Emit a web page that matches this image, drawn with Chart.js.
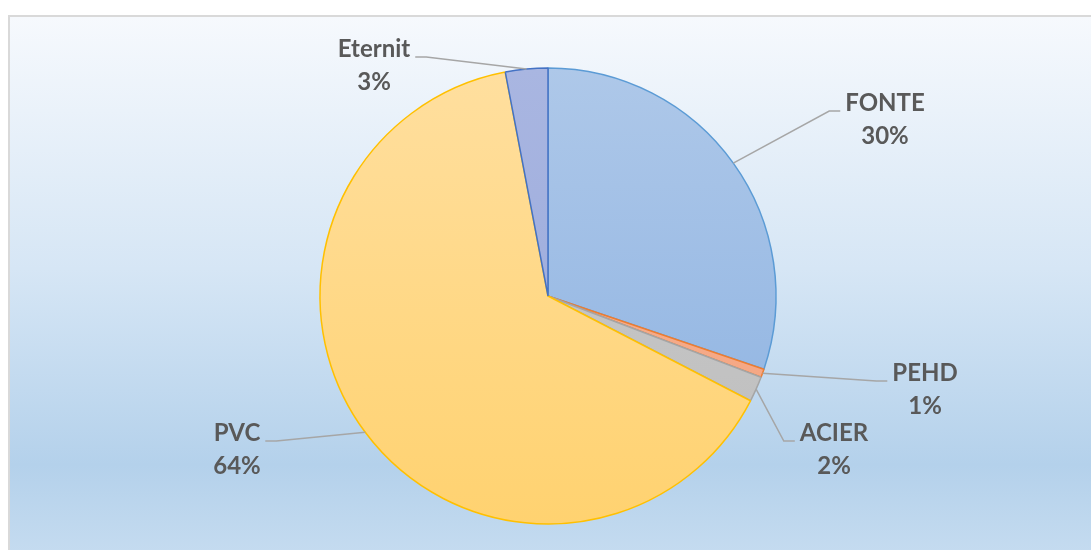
<!DOCTYPE html>
<html>
<head>
<meta charset="utf-8">
<script src="https://cdn.jsdelivr.net/npm/chart.js@4"></script>
<style>
    html, body { margin: 0; padding: 0; background: #ffffff; overflow: hidden; }
    #wrap { position: relative; width: 1091px; height: 550px; }
    #frame {
        position: absolute; left: 8px; top: 15px; width: 1100px; height: 560px;
        border-left: 2px solid #d9d9d9; border-top: 2px solid #d9d9d9;
        background: linear-gradient(to bottom, #f6f9fd 0%, #d6e6f5 45%, #b4d1eb 80%, #c9def1 100%);
    }
    #pieChart { position: absolute; left: 0; top: 0; }
</style>
</head>
<body>
<div id="wrap">
    <div id="frame"></div>
    <canvas id="pieChart" width="1091" height="550"></canvas>
</div>
<script>
// données
const categories = ['FONTE', 'PEHD', 'ACIER', 'PVC', 'Eternit'];
const shares = [30.2, 0.6, 1.8, 64.4, 3.0];

// couleurs (haut / bas du dégradé) et bordures
const fillTop = ['#aec8e9', '#f9bd9f', '#cccccc', '#ffdf9f', '#a9b6e1'];
const fillBottom = ['#8bb1e1', '#f39d78', '#bdbdbd', '#ffd270', '#97a7da'];
const borderColors = ['#5b9bd5', '#ed7d31', '#a5a5a5', '#ffc000', '#4472c4'];

// position des étiquettes par rapport au centre (px) et côté du trait
const labelOffsets = [[337, -193], [377, 77], [286, 137], [-311, 137], [-174, -247]];
const PIE_RADIUS = 228;

function sliceFill(context) {
    const chart = context.chart;
    const area = chart.chartArea;
    const i = context.dataIndex;
    if (!area) return fillTop[i];
    const cy = (area.top + area.bottom) / 2;
    const g = chart.ctx.createLinearGradient(0, cy - PIE_RADIUS, 0, cy + PIE_RADIUS);
    g.addColorStop(0, fillTop[i]);
    g.addColorStop(1, fillBottom[i]);
    return g;
}

// étiquettes avec lignes de repère
const leaderLabels = {
    id: 'leaderLabels',
    afterDatasetsDraw(chart) {
        const ctx = chart.ctx;
        const meta = chart.getDatasetMeta(0);
        const total = shares.reduce((a, b) => a + b, 0);
        ctx.save();
        meta.data.forEach((arc, i) => {
            const mid = (arc.startAngle + arc.endAngle) / 2;
            const rx = arc.x + Math.cos(mid) * arc.outerRadius;
            const ry = arc.y + Math.sin(mid) * arc.outerRadius;
            const tx = arc.x + labelOffsets[i][0];
            const ty = arc.y + labelOffsets[i][1];
            const pct = Math.round(shares[i] / total * 100) + '%';

            ctx.font = 'bold 24px Lato';
            const w1 = ctx.measureText(categories[i]).width;
            const right = rx > tx;
            const edgeX = right ? tx + w1 / 2 + 5 : tx - w1 / 2 - 5;
            const lineY = ty + 8;
            const elbowX = right ? edgeX + 11 : edgeX - 11;

            ctx.strokeStyle = '#a6a6a6';
            ctx.lineWidth = 1.5;
            ctx.beginPath();
            ctx.moveTo(rx, ry);
            ctx.lineTo(elbowX, lineY);
            ctx.lineTo(edgeX, lineY);
            ctx.stroke();

            ctx.fillStyle = '#595959';
            ctx.textAlign = 'center';
            ctx.textBaseline = 'middle';
            ctx.fillText(categories[i], tx, ty);
            ctx.fillText(pct, tx, ty + 33);
        });
        ctx.restore();
    }
};

new Chart(document.getElementById('pieChart'), {
    type: 'pie',
    data: {
        labels: categories,
        datasets: [{
            data: shares,
            backgroundColor: sliceFill,
            borderColor: borderColors,
            borderWidth: 1.5,
            radius: PIE_RADIUS
        }]
    },
    options: {
        responsive: false,
        animation: false,
        layout: { padding: { left: 5, right: 0, top: 42, bottom: 0 } },
        plugins: {
            legend: { display: false },
            tooltip: { enabled: false }
        }
    },
    plugins: [leaderLabels]
});
</script>
</body>
</html>
